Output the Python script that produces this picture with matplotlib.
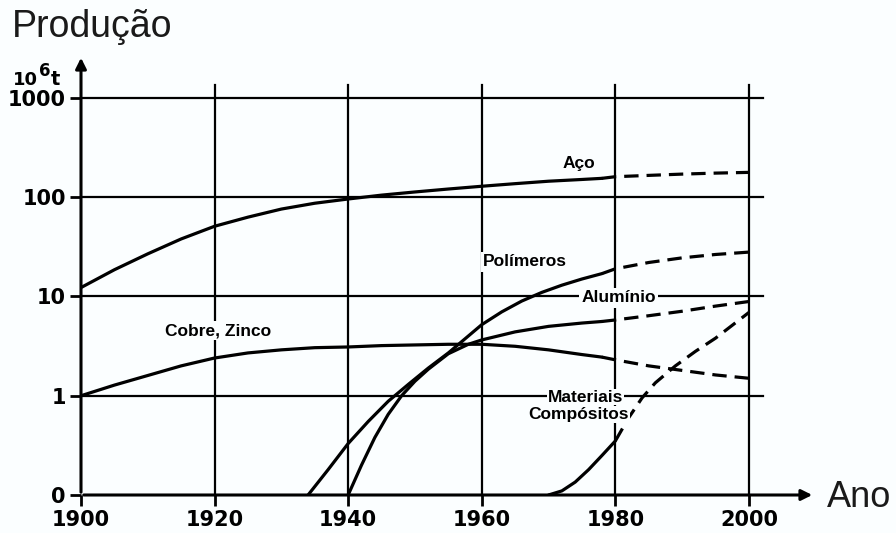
import matplotlib
matplotlib.use('Agg')
import matplotlib.pyplot as plt

# data (production in 10^6 t, 0.1 stands for the "0" line)
aco_years = [1900, 1905, 1910, 1915, 1920, 1925, 1930, 1935, 1940, 1945, 1950, 1955, 1960, 1965, 1970, 1975, 1978]
aco_vals = [12.3, 18.6, 26.9, 38, 51, 63, 76, 87, 96, 105, 113, 121, 129, 137, 145, 151, 155]
aco_dash_years = [1978, 1980, 1985, 1990, 1995, 2000]
aco_dash_vals = [155, 161, 166, 171, 175, 178]

cobre_years = [1900, 1905, 1910, 1915, 1920, 1925, 1930, 1935, 1940, 1945, 1950, 1955, 1960, 1965, 1970, 1975, 1978]
cobre_vals = [1.0, 1.28, 1.6, 2.0, 2.4, 2.7, 2.9, 3.05, 3.1, 3.2, 3.25, 3.3, 3.3, 3.15, 2.9, 2.6, 2.45]
cobre_dash_years = [1978, 1980, 1985, 1990, 1995, 2000]
cobre_dash_vals = [2.45, 2.3, 2.0, 1.8, 1.62, 1.5]

poli_years = [1934, 1937, 1940, 1943, 1946, 1949, 1952, 1955, 1958, 1960, 1963, 1966, 1969, 1972, 1975, 1978]
poli_vals = [0.1, 0.18, 0.33, 0.55, 0.88, 1.3, 1.9, 2.7, 4.0, 5.2, 7.0, 9.0, 11.0, 13.0, 15.0, 17.0]
poli_dash_years = [1978, 1980, 1985, 1990, 1995, 2000]
poli_dash_vals = [17.0, 19, 22, 24.5, 26.5, 28]

alu_years = [1940, 1942, 1944, 1946, 1948, 1950, 1952, 1955, 1958, 1960, 1965, 1970, 1975, 1978]
alu_vals = [0.1, 0.2, 0.38, 0.65, 1.0, 1.4, 1.85, 2.65, 3.3, 3.65, 4.4, 5.0, 5.4, 5.6]
alu_dash_years = [1978, 1980, 1985, 1990, 1995, 2000]
alu_dash_vals = [5.6, 5.8, 6.4, 7.1, 8.0, 8.9]

comp_years = [1970, 1972, 1974, 1976, 1978, 1980]
comp_vals = [0.1, 0.11, 0.135, 0.18, 0.25, 0.35]
comp_dash_years = [1980, 1982, 1984, 1986, 1989, 1992, 1995, 2000]
comp_dash_vals = [0.35, 0.6, 0.95, 1.35, 2.0, 2.8, 3.8, 6.9]

year_ticks = [1900, 1920, 1940, 1960, 1980, 2000]
prod_ticks = [0.1, 1, 10, 100, 1000]
prod_labels = ['0', '1', '10', '100', '1000']

BG = '#fbfeff'
LW_CURVE = 2.3
LW_GRID = 1.6
tick_font = ['Liberation Sans Narrow', 'DejaVu Sans']
label_font = ['Liberation Sans', 'DejaVu Sans']

fig = plt.figure(figsize=(8.96, 5.33), dpi=100, facecolor=BG)
ax = fig.add_axes([81/896, 38/533, (815-81)/896, (495-55)/533])
ax.set_facecolor(BG)
ax.set_yscale('log')
ax.set_xlim(1900, 2009.9)
ax.set_ylim(0.1, 10**3.433)
for s in ax.spines.values():
    s.set_visible(False)

# grid
for v in prod_ticks[1:]:
    ax.plot([1900, 2002.1], [v, v], color='black', lw=LW_GRID, zorder=1)
for yr in year_ticks[1:]:
    ax.plot([yr, yr], [0.1, 10**3.13], color='black', lw=LW_GRID, zorder=1)

# axes with arrows
ax.annotate('', xy=(2009.9, 0.1), xytext=(1900, 0.1),
            arrowprops=dict(arrowstyle='-|>', color='black', lw=2.2, mutation_scale=16),
            annotation_clip=False, zorder=2)
ax.annotate('', xy=(1900, 10**3.433), xytext=(1900, 0.1),
            arrowprops=dict(arrowstyle='-|>', color='black', lw=2.2, mutation_scale=16),
            annotation_clip=False, zorder=2)

ax.set_xticks(year_ticks)
ax.set_xticklabels([str(y) for y in year_ticks])
ax.set_yticks(prod_ticks)
ax.set_yticklabels(prod_labels)
ax.minorticks_off()
ax.tick_params(axis='both', length=8, width=2, color='black', pad=3)
for lab in ax.get_xticklabels() + ax.get_yticklabels():
    lab.set_family(tick_font)
    lab.set_fontweight('bold')
    lab.set_fontsize(15)

# curves
solid = dict(color='black', lw=LW_CURVE, solid_capstyle='round', solid_joinstyle='round', zorder=3)
dashed = dict(color='black', lw=LW_CURVE, ls=(0, (4.5, 2.5)), zorder=3)
ax.plot(aco_years, aco_vals, **solid)
ax.plot(aco_dash_years, aco_dash_vals, **dashed)
ax.plot(cobre_years, cobre_vals, **solid)
ax.plot(cobre_dash_years, cobre_dash_vals, **dashed)
ax.plot(poli_years, poli_vals, **solid)
ax.plot(poli_dash_years, poli_dash_vals, **dashed)
ax.plot(alu_years, alu_vals, **solid)
ax.plot(alu_dash_years, alu_dash_vals, **dashed)
ax.plot(comp_years, comp_vals, **solid)
ax.plot(comp_dash_years, comp_dash_vals, **dashed)

# curve labels
box = dict(facecolor=BG, edgecolor='none', pad=1.5)
tkw = dict(family=label_font, fontweight='bold', fontsize=12.5, ha='center', va='center', zorder=4)
ax.text(1974.5, 221, 'Aço', **tkw)
ax.text(1966.5, 22.3, 'Polímeros', bbox=box, **tkw)
ax.text(1980.5, 9.66, 'Alumínio', bbox=box, **tkw)
ax.text(1920.5, 4.5, 'Cobre, Zinco', bbox=box, **tkw)
ax.text(1975.5, 0.97, 'Materiais', bbox=dict(facecolor=BG, edgecolor='none', pad=0.5), **tkw)
ax.text(1974.5, 0.65, 'Compósitos', bbox=dict(facecolor=BG, edgecolor='none', pad=0.5), **tkw)

# titles
fig.text(12/896, 1 - 37/533, 'Produção', family=label_font, fontsize=27, color='#1a1a1a', va='baseline')
fig.text(827/896, 1 - 507/533, 'Ano', family=label_font, fontsize=26, color='#1a1a1a', va='baseline')
fig.text(13/896, 1 - 85/533, '10', family=tick_font, fontweight='bold', fontsize=13, va='baseline')
fig.text(39/896, 1 - 76/533, '6', family=tick_font, fontweight='bold', fontsize=12, va='baseline')
fig.text(51/896, 1 - 85/533, 't', family=tick_font, fontweight='bold', fontsize=14, va='baseline')

fig.savefig('out.png', dpi=100, facecolor=BG)
